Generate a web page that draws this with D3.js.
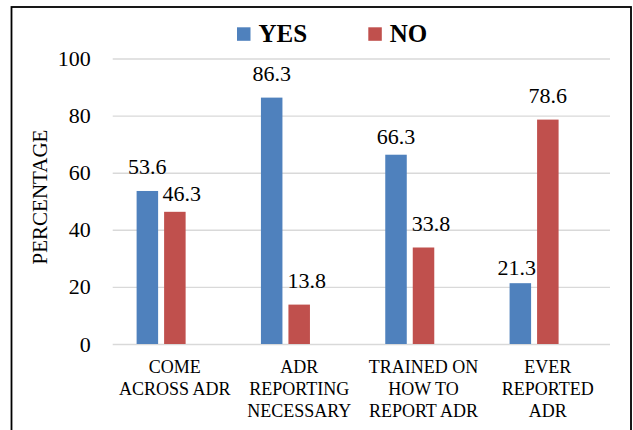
<!DOCTYPE html>
<html>
<head>
<meta charset="utf-8">
<script src="https://d3js.org/d3.v7.min.js"></script>
<style>
  body { margin: 0; background: #fff; }
</style>
</head>
<body>
<div id="chart"></div>
<script>
// data
var categories = ["COME ACROSS ADR", "ADR REPORTING NECESSARY", "TRAINED ON HOW TO REPORT ADR", "EVER REPORTED ADR"];
var categoryLines = [["COME", "ACROSS ADR"], ["ADR", "REPORTING", "NECESSARY"], ["TRAINED ON", "HOW TO", "REPORT ADR"], ["EVER", "REPORTED", "ADR"]];
var seriesNames = ["YES", "NO"];
var yesValues = [53.6, 86.3, 66.3, 21.3];
var noValues = [46.3, 13.8, 33.8, 78.6];
var yTicks = [0, 20, 40, 60, 80, 100];

// label nudges (the original labels were moved by hand a bit)
var yesNudge = [[0, 0], [0, 0], [0, 5.5], [-3.5, 8.5]];
var noNudge = [[7, 5.7], [7.5, 0], [7.5, 0], [0, 0]];

var colors = ["#4f81bd", "#c0504d"];
var font = "'Liberation Serif', 'DejaVu Serif', serif";
var width = 633, height = 430;
var plot = {left: 112.7, right: 610, top: 58.5, bottom: 344};

var svg = d3.select("#chart").append("svg")
    .attr("width", width)
    .attr("height", height)
    .attr("font-family", font);

// outer frame
svg.append("rect")
    .attr("x", 11.5).attr("y", 7)
    .attr("width", 619.5).attr("height", 440)
    .attr("fill", "none")
    .attr("stroke", "#000")
    .attr("stroke-width", 1.8);

var y = d3.scaleLinear().domain([0, 100]).range([plot.bottom, plot.top]);

var x0 = d3.scaleBand()
    .domain(categories)
    .range([plot.left, plot.right])
    .paddingInner(0.3846)
    .paddingOuter(0.1923);

// Excel kept room for a third (empty) series, so there are 3 slots per group
var x1 = d3.scaleBand()
    .domain([0, 1, 2])
    .range([0, x0.bandwidth()])
    .paddingInner(0.218);

// gridlines + tick labels
var yAxis = svg.append("g")
    .attr("transform", "translate(" + plot.left + ",0)")
    .call(d3.axisLeft(y).tickValues(yTicks).tickSize(-(plot.right - plot.left)).tickPadding(22));
yAxis.attr("font-family", font).attr("font-size", 22);
yAxis.select(".domain").remove();
yAxis.selectAll(".tick line").attr("stroke", "#d9d9d9").attr("stroke-width", 1.4);
yAxis.selectAll(".tick text").attr("fill", "#000");

// y title
svg.append("text")
    .attr("transform", "translate(46.5,197) rotate(-90)")
    .attr("text-anchor", "middle")
    .attr("font-size", 21)
    .text("PERCENTAGE");

var series = [yesValues, noValues];
var nudges = [yesNudge, noNudge];

series.forEach(function(vals, s) {
    var g = svg.append("g");
    g.selectAll("rect")
        .data(vals)
        .enter().append("rect")
        .attr("x", function(d, i) { return x0(categories[i]) + x1(s); })
        .attr("y", function(d) { return y(d); })
        .attr("width", x1.bandwidth())
        .attr("height", function(d) { return y(0) - y(d); })
        .attr("fill", colors[s]);

    g.selectAll("text")
        .data(vals)
        .enter().append("text")
        .attr("x", function(d, i) { return x0(categories[i]) + x1(s) + x1.bandwidth() / 2 + nudges[s][i][0]; })
        .attr("y", function(d, i) { return y(d) - 16.5 + nudges[s][i][1]; })
        .attr("text-anchor", "middle")
        .attr("font-size", 22)
        .text(function(d) { return d.toFixed(1); });
});

// category labels
categories.forEach(function(c, i) {
    var t = svg.append("text")
        .attr("text-anchor", "middle")
        .attr("font-size", 18);
    categoryLines[i].forEach(function(line, k) {
        t.append("tspan")
            .attr("x", x0(c) + x0.bandwidth() / 2)
            .attr("y", 373.3 + k * 21.6)
            .text(line);
    });
});

// legend
var legendX = [237, 368.3];
seriesNames.forEach(function(name, s) {
    svg.append("rect")
        .attr("x", legendX[s]).attr("y", 27.3)
        .attr("width", 13.5).attr("height", 13.5)
        .attr("fill", colors[s]);
    svg.append("text")
        .attr("x", legendX[s] + 21.5)
        .attr("y", 42)
        .attr("font-size", 25)
        .attr("font-weight", "bold")
        .text(name);
});
</script>
</body>
</html>
